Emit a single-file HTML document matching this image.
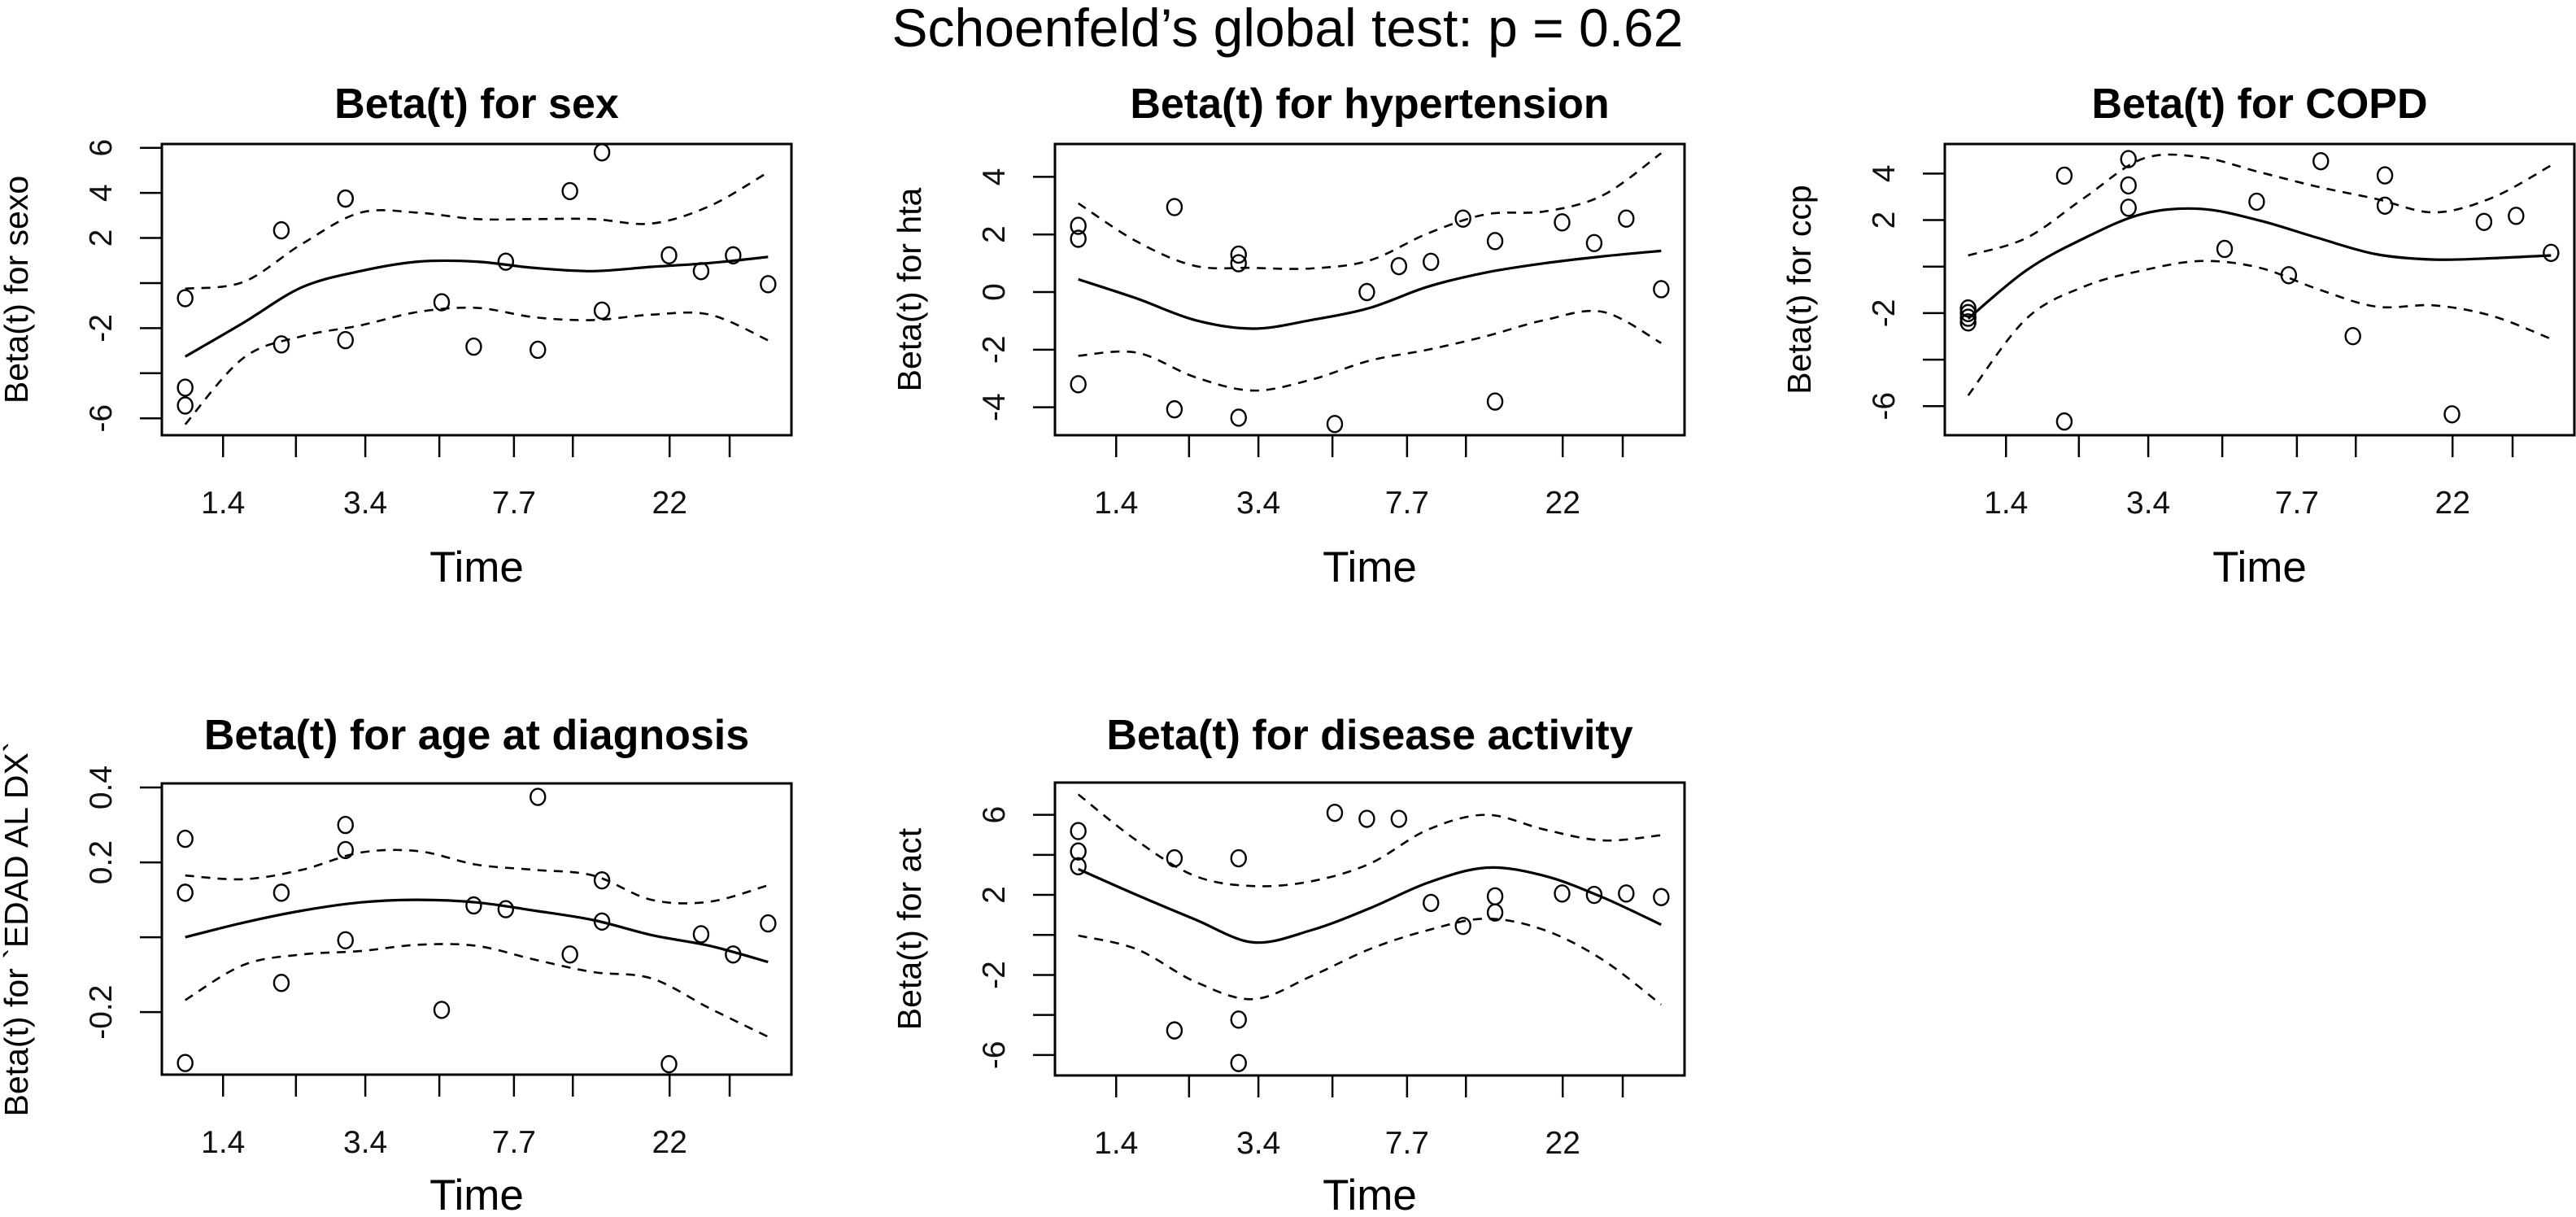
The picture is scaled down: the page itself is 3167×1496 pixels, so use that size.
<!DOCTYPE html>
<html><head><meta charset="utf-8">
<style>
html,body{margin:0;padding:0;background:#fff;}
svg{display:block;font-family:"Liberation Sans",Arial,sans-serif;}
</style></head>
<body>
<svg id="fig" width="3167" height="1496" viewBox="0 0 3167 1496" xmlns="http://www.w3.org/2000/svg">
<rect width="3167" height="1496" fill="#fff"/>
<text x="1583" y="57" font-size="66" text-anchor="middle">Schoenfeld’s global test: p = 0.62</text>
</svg>
<script>
// Shared x axis (transformed time scale, data range 0..1)
const xTickPos = [0.065, 0.19, 0.309, 0.436, 0.564, 0.665, 0.831, 0.934];
const xTickLabels = ['1.4', '', '3.4', '', '7.7', '', '22', ''];
const curveT = [0, 0.1, 0.2, 0.3, 0.4, 0.5, 0.6, 0.7, 0.8, 0.9, 1.0];

// Panel 1: sex
const p1Times = [0,0,0,0.165,0.165,0.275,0.275,0.275,0.44,0.495,0.55,0.605,0.66,0.715,0.715,0.83,0.885,0.94,1];
const p1Resid = [-0.67,-4.64,-5.43,2.34,-2.72,3.75,3.75,-2.53,-0.85,-2.82,0.95,-2.96,4.08,5.8,-1.22,1.23,0.53,1.23,-0.05];
const p1Fit = [-3.26,-1.76,-0.19,0.53,0.95,0.95,0.67,0.53,0.72,0.89,1.16];
const p1Upper = [-0.25,0.05,1.73,3.12,3.12,2.84,2.84,2.84,2.64,3.42,4.92];
const p1Lower = [-6.27,-3.32,-2.36,-1.88,-1.28,-1.1,-1.52,-1.64,-1.4,-1.4,-2.54];
const p1YTicks = [-6,-4,-2,0,2,4,6];
const p1YTickLabels = ['-6','','-2','','2','4','6'];

// Panel 2: hypertension
const p2Times = [0,0,0,0.165,0.165,0.275,0.275,0.275,0.44,0.495,0.55,0.605,0.66,0.715,0.715,0.83,0.885,0.94,1];
const p2Resid = [2.3,1.85,-3.2,2.95,-4.07,1.3,1.0,-4.36,-4.58,0.0,0.9,1.05,2.55,1.77,-3.8,2.42,1.7,2.55,0.1];
const p2Fit = [0.44,-0.22,-0.97,-1.27,-0.97,-0.55,0.19,0.68,1.0,1.24,1.43];
const p2Upper = [3.08,1.76,0.91,0.84,0.82,1.1,2.04,2.7,2.8,3.36,4.82];
const p2Lower = [-2.21,-2.1,-2.95,-3.42,-3.04,-2.38,-2.0,-1.53,-0.97,-0.69,-1.77];
const p2YTicks = [-4,-2,0,2,4];
const p2YTickLabels = ['-4','-2','0','2','4'];

// Panel 3: COPD
const p3Times = [0,0,0,0,0.165,0.165,0.275,0.275,0.275,0.44,0.495,0.55,0.605,0.66,0.715,0.715,0.83,0.885,0.94,1];
const p3Resid = [-1.8,-2.0,-2.2,-2.4,3.91,-6.66,4.62,3.49,2.53,0.76,2.79,-0.37,4.53,-2.99,3.92,2.62,-6.35,1.92,2.18,0.59];
const p3Fit = [-2.24,-0.16,1.23,2.27,2.48,1.98,1.23,0.53,0.3,0.36,0.48];
const p3Upper = [0.48,1.23,2.97,4.64,4.7,4.06,3.43,2.91,2.33,2.97,4.35];
const p3Lower = [-5.54,-2.24,-0.85,-0.16,0.24,-0.05,-0.97,-1.72,-1.67,-2.13,-3.11];
const p3YTicks = [-6,-4,-2,0,2,4];
const p3YTickLabels = ['-6','','-2','','2','4'];

// Panel 4: age at diagnosis
const p4Times = [0,0,0,0.165,0.165,0.275,0.275,0.275,0.44,0.495,0.55,0.605,0.66,0.715,0.715,0.83,0.885,0.94,1];
const p4Resid = [0.263,0.119,-0.336,0.119,-0.122,0.30,0.233,-0.008,-0.194,0.085,0.075,0.375,-0.046,0.152,0.042,-0.339,0.008,-0.046,0.037];
const p4Fit = [0.0,0.039,0.071,0.093,0.10,0.093,0.071,0.046,0.006,-0.023,-0.066];
const p4Upper = [0.165,0.155,0.18,0.226,0.23,0.194,0.18,0.165,0.10,0.095,0.139];
const p4Lower = [-0.168,-0.074,-0.046,-0.037,-0.02,-0.023,-0.06,-0.093,-0.11,-0.19,-0.266];
const p4YTicks = [-0.2,0,0.2,0.4];
const p4YTickLabels = ['-0.2','','0.2','0.4'];

// Panel 5: disease activity
const p5Times = [0,0,0,0.165,0.165,0.275,0.275,0.275,0.44,0.495,0.55,0.605,0.66,0.715,0.715,0.83,0.885,0.94,1];
const p5Resid = [5.19,4.17,3.43,3.83,-4.77,3.83,-4.23,-6.4,6.1,5.8,5.8,1.6,0.45,1.93,1.12,2.07,2.0,2.07,1.89];
const p5Fit = [3.29,2.0,0.78,-0.37,0.24,1.33,2.61,3.36,2.95,1.87,0.51];
const p5Upper = [7.02,4.72,2.95,2.44,2.68,3.56,5.26,6.0,5.26,4.72,4.98];
const p5Lower = [-0.03,-0.71,-2.33,-3.21,-2.06,-0.71,0.24,0.81,0.24,-1.25,-3.48];
const p5YTicks = [-6,-4,-2,0,2,4,6];
const p5YTickLabels = ['-6','','-2','','2','','6'];

const NS = 'http://www.w3.org/2000/svg';
const svg = document.getElementById('fig');
function mk(tag, attrs, parent) {
  const e = document.createElementNS(NS, tag);
  for (const k in attrs) e.setAttribute(k, attrs[k]);
  (parent || svg).appendChild(e);
  return e;
}
function smoothPath(pts) {
  let d = 'M' + pts[0][0].toFixed(1) + ',' + pts[0][1].toFixed(1);
  for (let i = 0; i < pts.length - 1; i++) {
    const p0 = pts[Math.max(0, i - 1)], p1 = pts[i], p2 = pts[i + 1], p3 = pts[Math.min(pts.length - 1, i + 2)];
    const c1x = p1[0] + (p2[0] - p0[0]) / 6, c1y = p1[1] + (p2[1] - p0[1]) / 6;
    const c2x = p2[0] - (p3[0] - p1[0]) / 6, c2y = p2[1] - (p3[1] - p1[1]) / 6;
    d += ' C' + c1x.toFixed(1) + ',' + c1y.toFixed(1) + ' ' + c2x.toFixed(1) + ',' + c2y.toFixed(1) + ' ' + p2[0].toFixed(1) + ',' + p2[1].toFixed(1);
  }
  return d;
}

function panel(cfg) {
  const g = mk('g', {});
  
  
  const L = cfg.left, R = cfg.left + 774, T = cfg.top, B = cfg.bottom;
  const xs = t => L + (t + 0.04) / 1.08 * (R - L);
  const ys = v => B - (v - cfg.ymin) / (cfg.ymax - cfg.ymin) * (B - T);

  const title = mk('text', {x: (L + R) / 2, y: cfg.titleY, 'font-size': 52, 'font-weight': 'bold', 'text-anchor': 'middle'}, g);
  title.textContent = cfg.title;
  
  

  // x axis ticks
  for (let i = 0; i < xTickPos.length; i++) {
    const x = xs(xTickPos[i]);
    const tk = mk('line', {x1: x, x2: x, y1: B, y2: B + 27, stroke: '#000', 'stroke-width': 2.5}, g);
    
    
    if (xTickLabels[i]) {
      const tl = mk('text', {x: x, y: B + 96, 'font-size': 39, 'text-anchor': 'middle', fill: '#111'}, g);
      tl.textContent = xTickLabels[i];
      
      
    }
  }
  const xt = mk('text', {x: (L + R) / 2, y: cfg.timeY, 'font-size': 53, 'text-anchor': 'middle'}, g);
  xt.textContent = 'Time';
  
  

  // y axis ticks
  for (let i = 0; i < cfg.yTicks.length; i++) {
    const y = ys(cfg.yTicks[i]);
    const tk = mk('line', {x1: L - 27, x2: L, y1: y, y2: y, stroke: '#000', 'stroke-width': 2.5}, g);
    
    
    if (cfg.yTickLabels[i]) {
      const tl = mk('text', {x: 0, y: 0, 'font-size': 39, 'text-anchor': 'middle', fill: '#111', transform: 'translate(' + (L - 62) + ',' + y + ') rotate(-90)'}, g);
      tl.textContent = cfg.yTickLabels[i];
      
      
    }
  }
  const yt = mk('text', {x: 0, y: 0, 'font-size': 41, 'text-anchor': 'middle', transform: 'translate(' + (L - 165) + ',' + ((T + B) / 2) + ') rotate(-90)'}, g);
  yt.textContent = cfg.ylab;
  
  

  // curves
  const mkCurve = (arr, dash, nm) => {
    const pts = curveT.map((t, i) => [xs(t), ys(arr[i])]);
    const p = mk('path', {d: smoothPath(pts), fill: 'none', stroke: '#000', 'stroke-width': dash ? 2.6 : 3.2}, g);
    if (dash) p.setAttribute('stroke-dasharray', '11 9');
    
    
  };
  mkCurve(cfg.upper, true, 'upper-confidence-band');
  mkCurve(cfg.lower, true, 'lower-confidence-band');
  mkCurve(cfg.fit, false, 'smoothed-beta-line');

  // points
  for (let i = 0; i < cfg.times.length; i++) {
    const c = mk('ellipse', {cx: xs(cfg.times[i]), cy: ys(cfg.resid[i]), rx: 9, ry: 10, fill: 'none', stroke: '#000', 'stroke-width': 2.4}, g);
    
    
  }

  const box = mk('rect', {x: L, y: T, width: R - L, height: B - T, fill: 'none', stroke: '#000', 'stroke-width': 3}, g);
  
  
}

panel({name:'sex', title:'Beta(t) for sex', ylab:'Beta(t) for sexo', left:199, top:177, bottom:535, titleY:145, timeY:715,
  ymin:-6.75, ymax:6.17, yTicks:p1YTicks, yTickLabels:p1YTickLabels, times:p1Times, resid:p1Resid, fit:p1Fit, upper:p1Upper, lower:p1Lower});
panel({name:'hypertension', title:'Beta(t) for hypertension', ylab:'Beta(t) for hta', left:1297, top:177, bottom:535, titleY:145, timeY:715,
  ymin:-4.97, ymax:5.14, yTicks:p2YTicks, yTickLabels:p2YTickLabels, times:p2Times, resid:p2Resid, fit:p2Fit, upper:p2Upper, lower:p2Lower});
panel({name:'copd', title:'Beta(t) for COPD', ylab:'Beta(t) for ccp', left:2391, top:177, bottom:535, titleY:145, timeY:715,
  ymin:-7.25, ymax:5.27, yTicks:p3YTicks, yTickLabels:p3YTickLabels, times:p3Times, resid:p3Resid, fit:p3Fit, upper:p3Upper, lower:p3Lower});
panel({name:'age-at-diagnosis', title:'Beta(t) for age at diagnosis', ylab:'Beta(t) for `EDAD AL DX`', left:199, top:963, bottom:1321, titleY:921, timeY:1487,
  ymin:-0.367, ymax:0.411, yTicks:p4YTicks, yTickLabels:p4YTickLabels, times:p4Times, resid:p4Resid, fit:p4Fit, upper:p4Upper, lower:p4Lower});
panel({name:'disease-activity', title:'Beta(t) for disease activity', ylab:'Beta(t) for act', left:1297, top:962, bottom:1322, titleY:921, timeY:1487,
  ymin:-7.02, ymax:7.61, yTicks:p5YTicks, yTickLabels:p5YTickLabels, times:p5Times, resid:p5Resid, fit:p5Fit, upper:p5Upper, lower:p5Lower});
</script>
</body></html>
